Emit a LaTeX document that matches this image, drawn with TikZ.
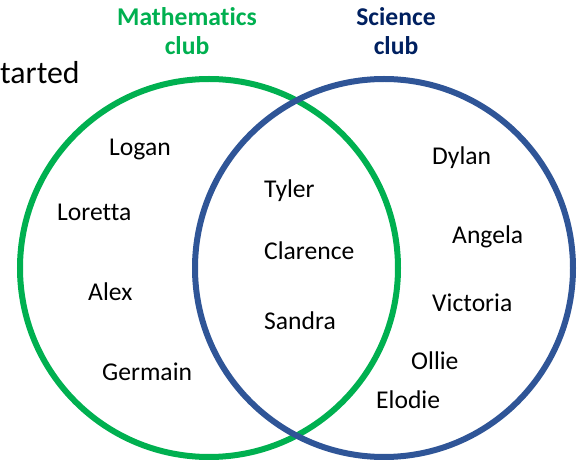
\documentclass[tikz,border=0pt]{standalone}
\usepackage{fontspec}
\setmainfont{Carlito}[Ligatures=NoCommon]
\usepackage{xcolor}
\usetikzlibrary{positioning}

\definecolor{mathgreen}{RGB}{0,176,80}
\definecolor{sciblue}{RGB}{47,85,151}
\definecolor{scinavy}{RGB}{0,32,96}

\begin{document}
\begin{tikzpicture}[
    x=1pt, y=-1pt,
    ring/.style={line width=6pt},
    member/.style={anchor=base west, inner sep=0pt, font=\fontsize{25.6}{29}\selectfont},
    clubtitle/.style={anchor=north, inner sep=0pt, align=center, font=\fontsize{25.6}{29}\selectfont\bfseries}
]
\useasboundingbox (0,0) rectangle (587,462);

% circles
\node[ring, draw=mathgreen, circle, minimum size=378pt, inner sep=0pt] (mathring) at (209,268) {};
\node[ring, draw=sciblue, circle, minimum size=378pt, inner sep=0pt] (sciring) at (384,268) {};

% titles
\node[clubtitle, text=mathgreen] (mathtitle) at (187,7) {Mathematics\\club};
\node[clubtitle, text=scinavy] (scititle) at (396,7) {Science\\club};
\node[member, font=\fontsize{31.8}{36}\selectfont] (started) at (0,84) {tarted};

% mathematics only
\node[member] (logan) at (109,156) {Logan};
\node[member] (loretta) at (57,221) {Loretta};
\node[member] (alex) at (88,301) {Alex};
\node[member] (germain) at (102,381) {Germain};

% both clubs
\node[member] (tyler) at (264,198) {Tyler};
\node[member] (clarence) at (264,260) {Clarence};
\node[member] (sandra) at (264,330) {Sandra};

% science only
\node[member] (dylan) at (432,165) {Dylan};
\node[member] (angela) at (452,244) {Angela};
\node[member] (victoria) at (432,312) {Victoria};
\node[member] (ollie) at (411,370) {Ollie};
\node[member] (elodie) at (376,409) {Elodie};

\end{tikzpicture}
\end{document}
